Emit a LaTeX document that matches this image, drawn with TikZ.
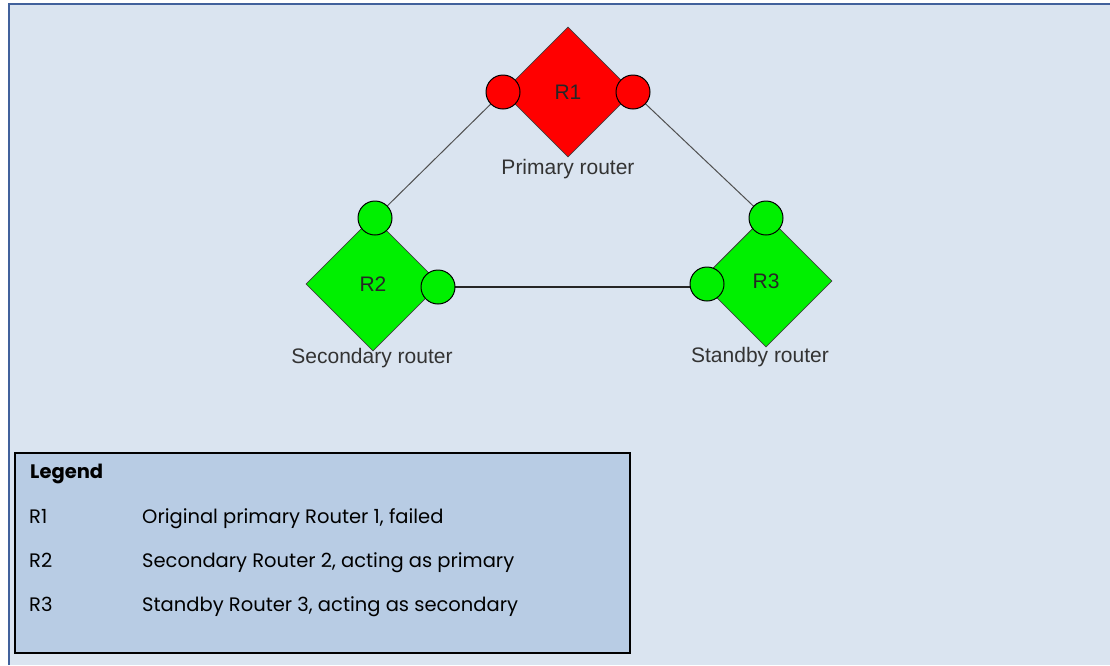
\documentclass[tikz,border=0pt]{standalone}
\usepackage{fontspec}
\setmainfont{Liberation Sans}
\newfontfamily\legendfont{Poppins}
\usetikzlibrary{shapes.geometric}
\pgfdeclarelayer{bg}
\pgfdeclarelayer{lines}
\pgfsetlayers{bg,lines,main}
\definecolor{pagebg}{HTML}{DAE4F0}
\definecolor{pageframe}{HTML}{41619C}
\definecolor{legendbg}{HTML}{B8CCE4}
\definecolor{rred}{HTML}{FF0000}
\definecolor{rgreen}{HTML}{00F000}
\definecolor{labelgray}{HTML}{333333}
\definecolor{linkgray}{HTML}{505050}
\tikzset{
  router/.style={diamond, aspect=1, inner sep=0pt, draw=black!75, line width=0.8pt,
    font=\fontsize{21}{24}\selectfont, text=black!85},
  port/.style={circle, inner sep=0pt, minimum size=34pt, draw=black, line width=1pt},
  rlabel/.style={font=\fontsize{21}{24}\selectfont, text=labelgray, inner sep=0pt},
  link/.style={draw=linkgray, line width=1pt},
  legtext/.style={font=\legendfont\fontsize{19.5}{22}\selectfont, text=black, anchor=base west, inner sep=0pt},
}
\begin{document}
\begin{tikzpicture}[x=1pt,y=-1pt]
\useasboundingbox (0,0) rectangle (1110,665);
\begin{pgfonlayer}{bg}
  \fill[white] (0,0) rectangle (1110,665);
  \fill[pagebg] (9,4) rectangle (1110,665);
  \draw[pageframe, line width=1.5pt] (9,665) -- (9,4) -- (1110,4);
\end{pgfonlayer}

% routers
\node[router, fill=rred, minimum width=130pt, minimum height=130pt] (r1) at (568,92) {R1};
\node[router, fill=rgreen, minimum width=134pt, minimum height=134pt] (r2) at (373,284) {R2};
\node[router, fill=rgreen, minimum width=132pt, minimum height=132pt] (r3) at (766,281) {R3};

% ports
\node[port, fill=rred] (p1l) at (503,92) {};
\node[port, fill=rred] (p1r) at (633,92) {};
\node[port, fill=rgreen] (p2t) at (375,218) {};
\node[port, fill=rgreen] (p2r) at (438,287) {};
\node[port, fill=rgreen] (p3t) at (766,218) {};
\node[port, fill=rgreen] (p3l) at (707,284) {};

% labels
\node[rlabel] (l1) at (568,169) {Primary router};
\node[rlabel] (l2) at (372,358) {Secondary router};
\node[rlabel] (l3) at (760,357) {Standby router};

% links
\begin{pgfonlayer}{lines}
  \draw[link] (p1l.center) -- (p2t.center);
  \draw[link] (p1r.center) -- (p3t.center);
  \draw[link, draw=black!85, line width=1.3pt] (p2r.center) -- (p2r.center -| p3l.center);
\end{pgfonlayer}

% legend
\node[draw=black, line width=2pt, fill=legendbg, minimum width=615pt, minimum height=200pt, anchor=north west, inner sep=0pt] (legend) at (14,452) {};
\node[legtext, font=\legendfont\bfseries\fontsize{19.5}{22}\selectfont] (lgh) at (30,478) {Legend};
\node[legtext] (k1) at (29,523) {R1};
\node[legtext] (d1) at (142,523) {Original primary Router 1, failed};
\node[legtext] (k2) at (29,567) {R2};
\node[legtext] (d2) at (142,567) {Secondary Router 2, acting as primary};
\node[legtext] (k3) at (29,611) {R3};
\node[legtext] (d3) at (142,611) {Standby Router 3, acting as secondary};
\end{tikzpicture}
\end{document}
